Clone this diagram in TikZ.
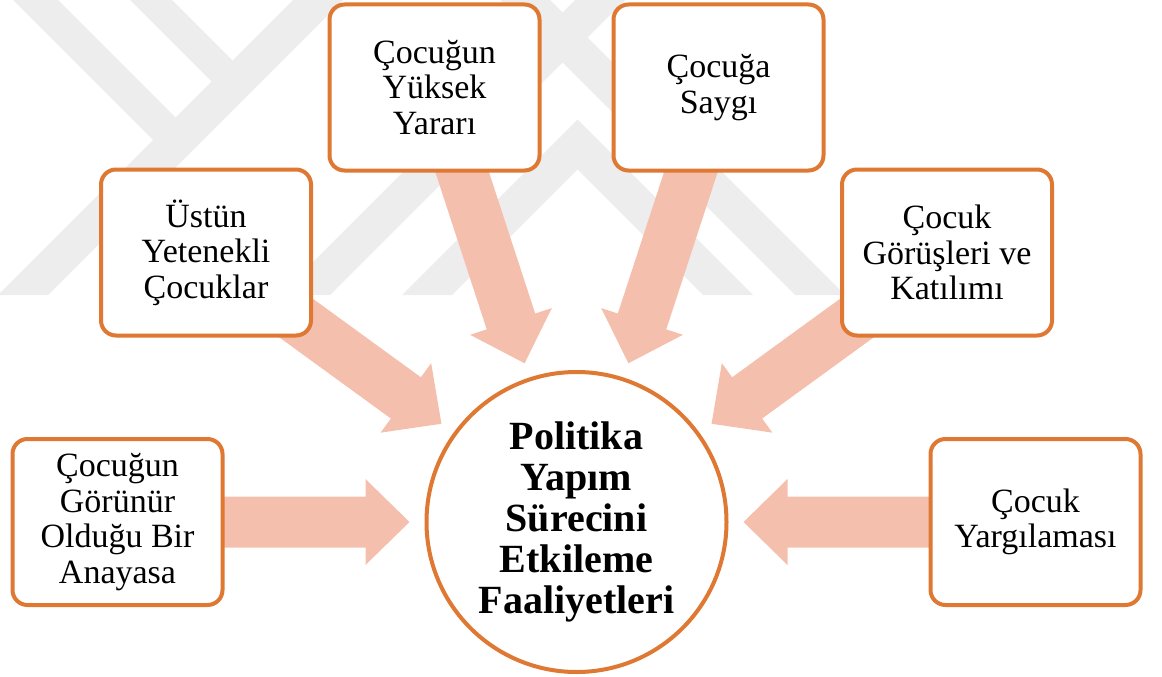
\documentclass[tikz,border=0pt]{standalone}
\usepackage{fontspec}
\setmainfont{Liberation Serif}
\usetikzlibrary{calc,backgrounds}
\definecolor{borange}{RGB}{222,120,50}
\definecolor{afill}{RGB}{244,192,173}
\definecolor{wmark}{RGB}{237,237,237}
\tikzset{
  box/.style={draw=borange, line width=4pt, rounded corners=15pt, fill=white,
    minimum width=210pt, minimum height=166pt, inner sep=0pt, align=center,
    font=\fontsize{34}{35.5}\selectfont},
  hub/.style={circle, draw=borange, line width=4pt, fill=white, minimum size=300pt,
    inner sep=0pt, align=center, font=\fontsize{40}{41}\selectfont\bfseries},
  band/.style={fill=wmark, draw=none},
  flow/.style={fill=afill, draw=none},
}
\newcommand\flowarrow[2]{%
  \path ($(#2.center)!167pt!(#1.center)$) coordinate (T);
  \path ($(T)!44pt!(#1.center)$) coordinate (B);
  \fill[flow] ($(#1.center)!25.5pt!90:(T)$) -- ($(B)!25.5pt!90:(T)$)
    -- ($(B)!43pt!90:(T)$) -- (T) -- ($(B)!43pt!-90:(T)$)
    -- ($(B)!25.5pt!-90:(T)$) -- ($(#1.center)!25.5pt!-90:(T)$) -- cycle;
}
\begin{document}
\begin{tikzpicture}[x=1pt,y=-1pt]
\useasboundingbox (0,0) rectangle (1162,677);
\node[hub] (hub) at (576.5,522) {Politika\\Yapım\\Sürecini\\Etkileme\\Faaliyetleri};
\node[box] (b1) at (117.5,522) {Çocuğun\\Görünür\\Olduğu Bir\\Anayasa};
\node[box] (b2) at (206,252.5) {Üstün\\Yetenekli\\Çocuklar};
\node[box] (b3) at (434.5,87.5) {Çocuğun\\Yüksek\\Yararı};
\node[box] (b4) at (718.5,87.5) {Çocuğa\\Saygı};
\node[box] (b5) at (947,252.5) {Çocuk\\Görüşleri ve\\Katılımı};
\node[box] (b6) at (1035.5,522) {Çocuk\\Yargılaması};
\begin{pgfonlayer}{background}
  \begin{scope}
    \clip (0,0) rectangle (1162,295);
    \fill[band] (13,0) -- (58,0) -- (188,130) -- (165.5,152.5) -- cycle;
    \fill[band] (130,0) -- (172,0) -- (245,73) -- (224,94) -- cycle;
    \fill[band] (293,0) -- (343,0) -- (48,295) -- (-2,295) -- cycle;
    \fill[band] (575,0) -- (625,0) -- (330,295) -- (280,295) -- cycle;
    \fill[band] (402,295) -- (577.5,119.5) -- (753,295) -- (703,295) -- (577.5,169.5) -- (452,295) -- cycle;
    \fill[band] (500,0) -- (550,0) -- (845,295) -- (795,295) -- cycle;
  \end{scope}
  \flowarrow{b1}{hub}
  \flowarrow{b2}{hub}
  \flowarrow{b3}{hub}
  \flowarrow{b4}{hub}
  \flowarrow{b5}{hub}
  \flowarrow{b6}{hub}
\end{pgfonlayer}
\end{tikzpicture}
\end{document}
